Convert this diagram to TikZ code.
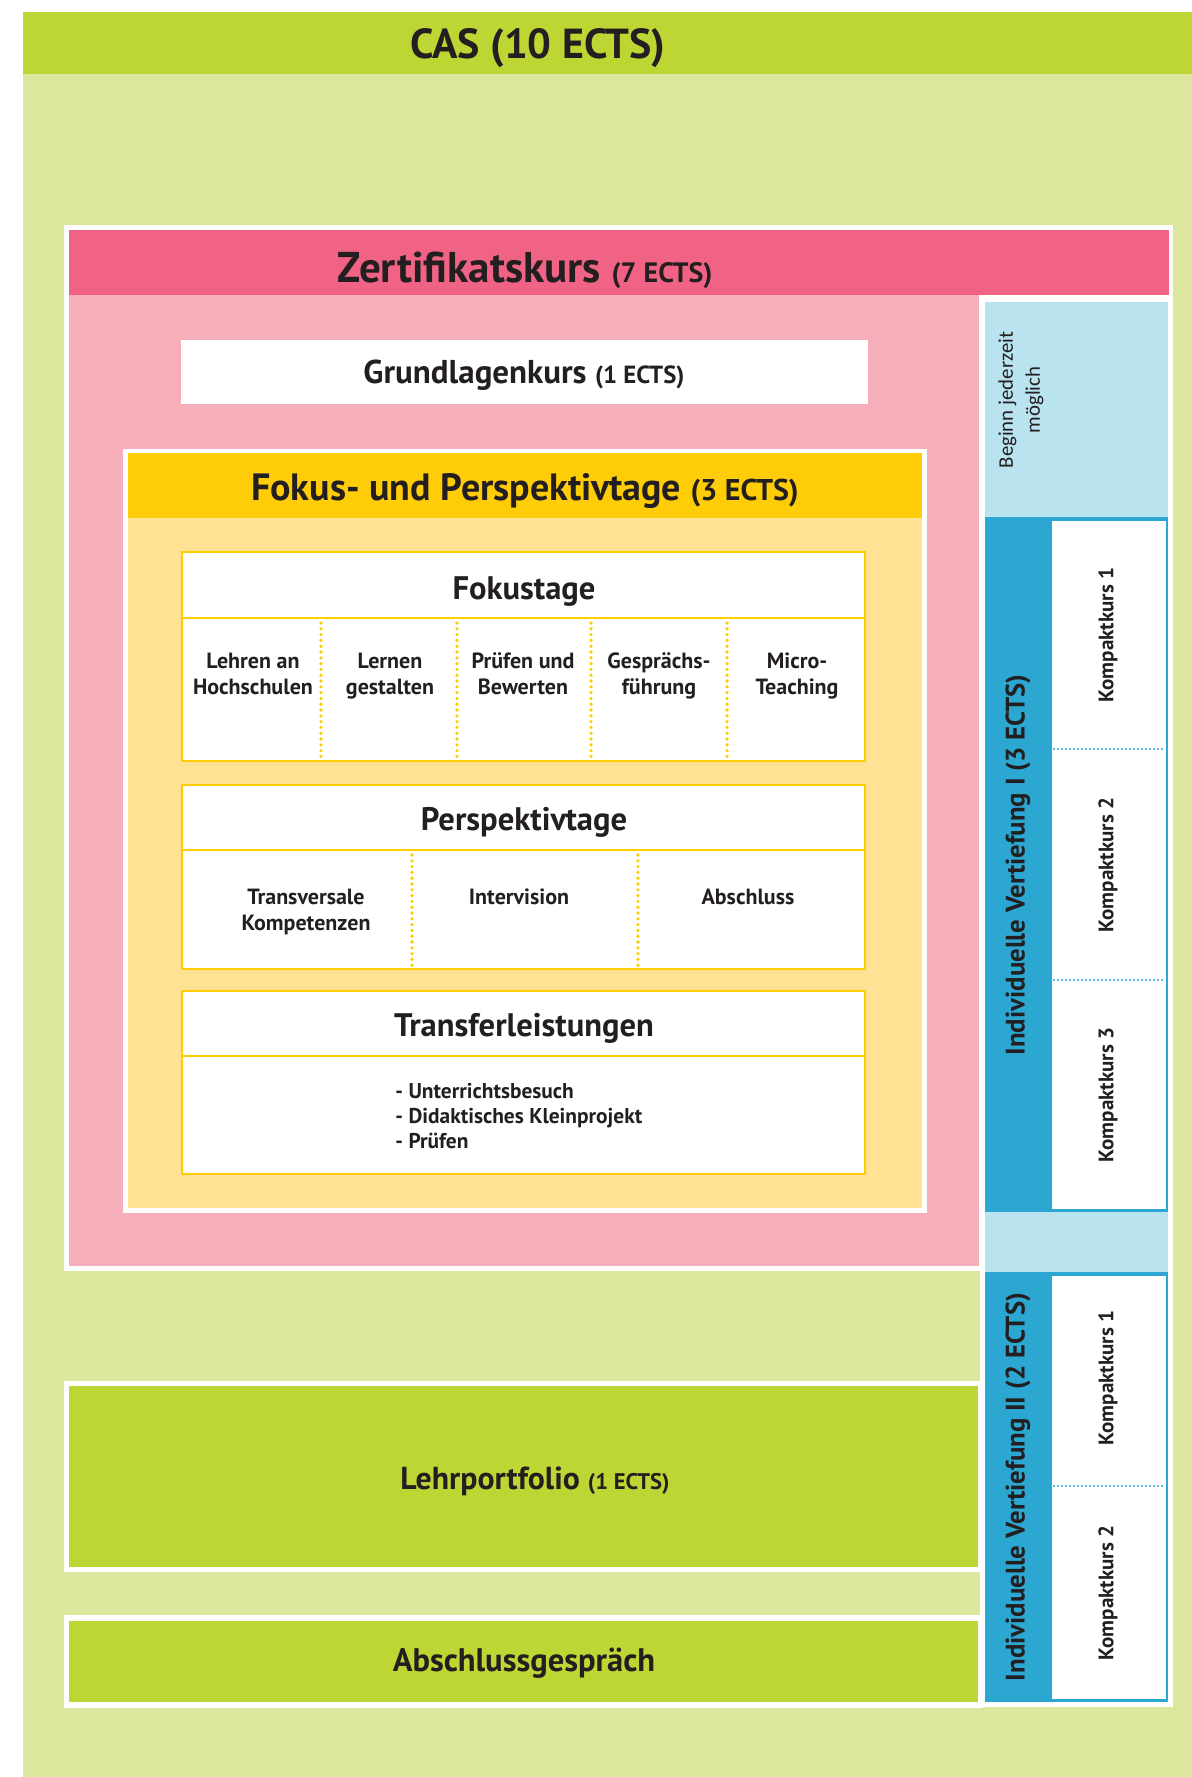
\documentclass[tikz,border=0pt]{standalone}
\usepackage{fontspec}
\setmainfont{PT Sans}
\newfontfamily\beginfont{Carlito}
\newcommand{\fsz}[2]{\fontsize{#1}{#2}\selectfont}

\definecolor{casbg}{HTML}{DCE69C}
\definecolor{casgreen}{HTML}{BDD634}
\definecolor{zpink}{HTML}{F06384}
\definecolor{zpinklight}{HTML}{F6AFBA}
\definecolor{fyellow}{HTML}{FFCC08}
\definecolor{fyellowlight}{HTML}{FFE293}
\definecolor{yborder}{HTML}{FFCC00}
\definecolor{vblue}{HTML}{2BA7D1}
\definecolor{vbluelight}{HTML}{BAE3F0}
\definecolor{textdark}{HTML}{231F20}

\begin{document}
\begin{tikzpicture}[x = 0.5pt, y = -0.5pt,
	lbl/.style = {inner sep = 0pt, text = textdark, font = \bfseries},
	ybox/.style = {draw = yborder, line width = 1.3pt, fill = white},
	ydots/.style = {draw = yborder, line width = 1.8pt, line cap = round, dash pattern = on 0pt off 2.9pt},
	bdots/.style = {draw = vblue, line width = 1.2pt, line cap = round, dash pattern = on 0pt off 2pt}]

	 \useasboundingbox (0, 0) rectangle (1192, 1777);
	 \fill[white] (0, 0) rectangle (1192, 1777);
	 \fill[casbg] (23, 12) rectangle (1192, 1777);
	 \fill[casgreen] (23, 12) rectangle (1192, 74);
	 \node[lbl, anchor = base] (cas) at (538, 59) {\fsz{21}{25}CAS (10 ECTS)};

	 \fill[white] (64, 225) rectangle (1173, 1271);
	 \fill[white] (980, 1271) rectangle (1173, 1707);
	 \fill[zpink] (69, 230) rectangle (1169, 295);
	 \fill[zpinklight] (69, 295) rectangle (979, 1266);
	 \node[lbl, anchor = base] (zert) at (525, 282) {\fsz{21.5}{25}Zertifikatskurs \fsz{14}{17}(7 ECTS)};

	 \fill[white] (181, 340) rectangle (868, 404);
	 \node[lbl, anchor = base] (grund) at (524, 383) {\fsz{16.5}{20}Grundlagenkurs \fsz{12.4}{15}(1 ECTS)};

	 \fill[white] (123, 449) rectangle (927, 1213);
	 \fill[fyellow] (128, 453) rectangle (922, 518);
	 \fill[fyellowlight] (128, 518) rectangle (922, 1208);
	 \node[lbl, anchor = base] (fokper) at (525, 500) {\fsz{19}{23}Fokus- und Perspektivtage \fsz{15}{18}(3 ECTS)};

	 \draw[ybox] (182, 552) rectangle (865, 761);
	 \draw[yborder, line width = 1.3pt] (182, 618) -- (865, 618);
	 \foreach \x in {321, 457, 591, 727}
	 \draw[ydots] (\x, 623) -- (\x, 758);
	 \node[lbl, anchor = base] (fokus) at (524, 599) {\fsz{16.3}{19}Fokustage};
	 \node[lbl, anchor = base, align = center, font = \bfseries\fsz{11}{13}] (lehren) at (253, 694) {Lehren an\\Hochschulen};
	 \node[lbl, anchor = base, align = center, font = \bfseries\fsz{11}{13}] (lernen) at (390, 694) {Lernen\\gestalten};
	 \node[lbl, anchor = base, align = center, font = \bfseries\fsz{11}{13}] (pruefen) at (523, 694) {Prüfen und\\Bewerten};
	 \node[lbl, anchor = base, align = center, font = \bfseries\fsz{11}{13}] (gespr) at (659, 694) {Gesprächs-\\führung};
	 \node[lbl, anchor = base, align = center, font = \bfseries\fsz{11}{13}] (micro) at (797, 694) {Micro-\\Teaching};

	 \draw[ybox] (182, 785) rectangle (865, 969);
	 \draw[yborder, line width = 1.3pt] (182, 850) -- (865, 850);
	 \foreach \x in {412, 638}
	 \draw[ydots] (\x, 855) -- (\x, 966);
	 \node[lbl, anchor = base] (persp) at (524, 830) {\fsz{16.3}{19}Perspektivtage};
	 \node[lbl, anchor = base, align = center, font = \bfseries\fsz{11}{13}] (transv) at (306, 930) {Transversale\\Kompetenzen};
	 \node[lbl, anchor = base, align = center, font = \bfseries\fsz{11}{13}] (interv) at (519, 904) {Intervision};
	 \node[lbl, anchor = base, align = center, font = \bfseries\fsz{11}{13}] (abschl) at (748, 904) {Abschluss};

	 \draw[ybox] (182, 991) rectangle (865, 1174);
	 \draw[yborder, line width = 1.3pt] (182, 1056) -- (865, 1056);
	 \node[lbl, anchor = base] (transfer) at (524, 1036) {\fsz{16.3}{19}Transferleistungen};
	 \node[lbl, anchor = base west, align = left, font = \bfseries\fsz{10.7}{12.5}] (tlist) at (395, 1148) {- Unterrichtsbesuch\\- Didaktisches Kleinprojekt\\- Prüfen};

	 \fill[white] (64, 1381) rectangle (983, 1572);
	 \fill[casgreen] (69, 1386) rectangle (978, 1567);
	 \node[lbl, anchor = base] (portf) at (535, 1489) {\fsz{15.9}{19}Lehrportfolio \fsz{11.3}{14}(1 ECTS)};

	 \fill[white] (64, 1615) rectangle (983, 1708);
	 \fill[casgreen] (69, 1621) rectangle (978, 1702);
	 \node[lbl, anchor = base] (gespraech) at (524, 1671) {\fsz{16.3}{19}Abschlussgespräch};

	 \fill[vbluelight] (985, 302) rectangle (1168, 1702);
	 \node[inner sep = 0pt, text = textdark, rotate = 90, align = center, font = \beginfont\fsz{10.4}{13.5}] (beginn) at (1021, 400) {Beginn jederzeit\\möglich};

	 \fill[vblue] (985, 517) rectangle (1168, 1212);
	 \fill[white] (1052, 521) rectangle (1166, 1209);
	 \foreach \y in {749, 980}
	 \draw[bdots] (1054, \y) -- (1165, \y);
	 \node[lbl, rotate = 90] (vert1) at (1018, 865) {\fsz{13.4}{16}Individuelle Vertiefung I (3 ECTS)};
	 \node[lbl, rotate = 90] (k11) at (1108, 635) {\fsz{10.5}{12}Kompaktkurs 1};
	 \node[lbl, rotate = 90] (k12) at (1108, 865) {\fsz{10.5}{12}Kompaktkurs 2};
	 \node[lbl, rotate = 90] (k13) at (1108, 1095) {\fsz{10.5}{12}Kompaktkurs 3};

	 \fill[vblue] (985, 1272) rectangle (1168, 1702);
	 \fill[white] (1052, 1276) rectangle (1166, 1699);
	 \draw[bdots] (1054, 1486) -- (1165, 1486);
	 \node[lbl, rotate = 90] (vert2) at (1018, 1487) {\fsz{13.4}{16}Individuelle Vertiefung II (2 ECTS)};
	 \node[lbl, rotate = 90] (k21) at (1108, 1378) {\fsz{10.5}{12}Kompaktkurs 1};
	 \node[lbl, rotate = 90] (k22) at (1108, 1593) {\fsz{10.5}{12}Kompaktkurs 2};
\end{tikzpicture}
\end{document}
